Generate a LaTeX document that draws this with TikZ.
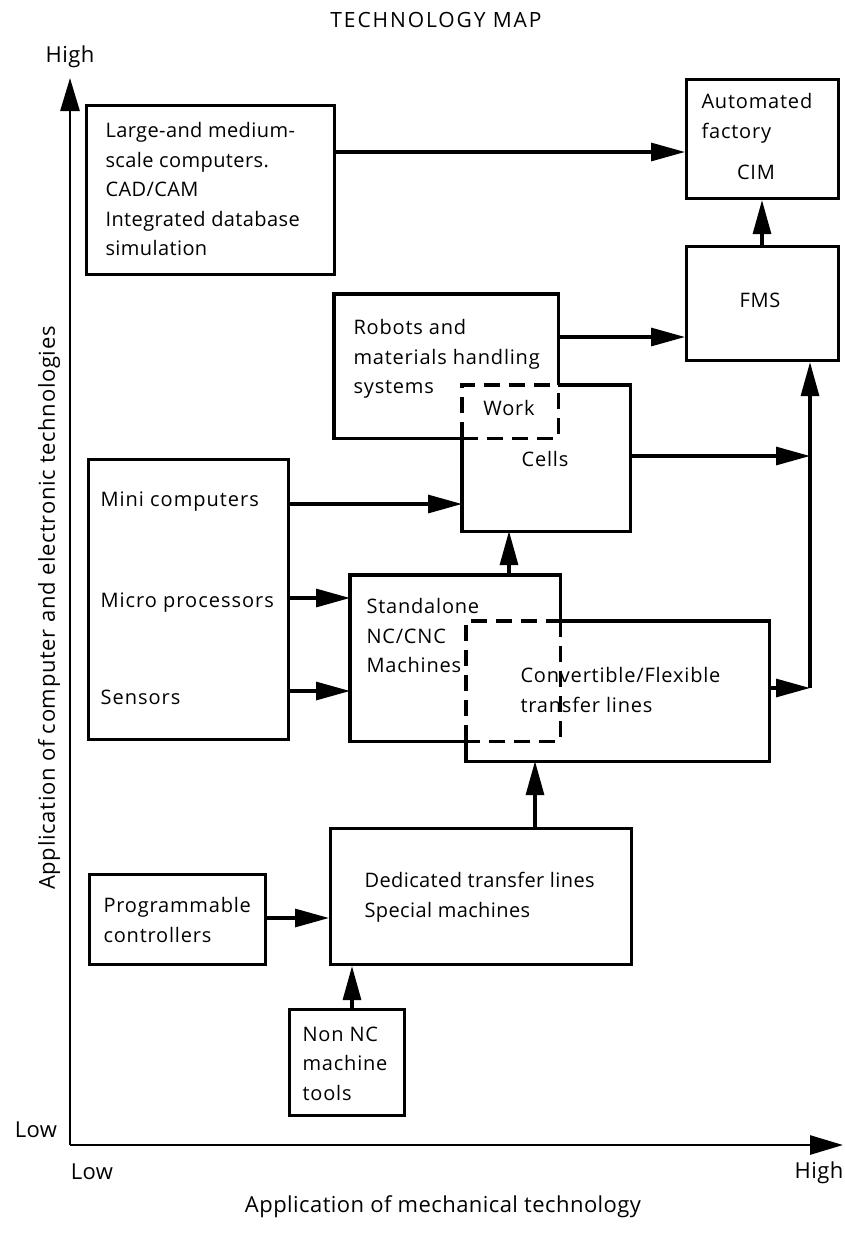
\documentclass[tikz,border=0pt]{standalone}
\usepackage{fontspec}
\setmainfont{Open Sans}
\usetikzlibrary{arrows.meta}
\begin{document}
\begin{tikzpicture}[x=1pt,y=-1pt,
  line width=3.1pt,
  box/.style={draw, line width=3.1pt, inner sep=0pt, anchor=north west},
  frame/.style={inner sep=0pt, anchor=north west},
  txt/.style={font=\fontsize{20}{29.5}\selectfont\addfontfeature{LetterSpace=4}, inner sep=0pt, align=left},
  tighttxt/.style={txt, font=\fontsize{20}{29.5}\selectfont\addfontfeature{LetterSpace=2}},
  spaced/.style={font=\fontsize{20}{29.5}\selectfont\addfontfeature{LetterSpace=5}},
  label/.style={inner sep=0pt, font=\fontsize{22}{26}\selectfont\addfontfeature{LetterSpace=2}},
  arr/.style={-{Triangle[length=34pt,width=18pt]}, line width=3.1pt},
  axis/.style={-{Triangle[length=33pt,width=19pt]}, line width=2.8pt},
  dashedge/.style={dash pattern=on 16pt off 9pt, line width=3.1pt}]
\useasboundingbox (0,0) rectangle (844,1243);

% titles and axis labels
\node[label, font=\fontsize{21}{26}\selectfont\addfontfeature{LetterSpace=9}] (title) at (436,20) {TECHNOLOGY MAP};
\node[label] (yhigh) at (70,57) {High};
\node[label] (ylow) at (36,1130) {Low};
\node[label] (xlow) at (92,1172) {Low};
\node[label] (xhigh) at (819,1173) {High};
\node[label] (xlabel) at (443,1207) {Application of mechanical technology};
\node[label, rotate=90, font=\fontsize{22}{26}\selectfont\addfontfeature{LetterSpace=3}] (ylabel) at (49,608) {Application of computer and electronic technologies};

% axes
\coordinate (O) at (70,1145);
\coordinate (ytip) at (70,78);
\coordinate (xtip) at (843,1145);
\draw[axis] (O) -- (ytip);
\draw[axis] (O) -- (xtip);

% plain boxes
\node[box, minimum width=248pt, minimum height=169pt] (large) at (85,104) {};
\node[box, minimum width=152pt, minimum height=119pt] (auto) at (685,78) {};
\node[box, minimum width=152pt, minimum height=114pt] (fms) at (685,245) {};
\node[box, minimum width=200pt, minimum height=280pt] (side) at (87,458) {};
\node[box, minimum width=301pt, minimum height=136pt] (ded) at (329,827) {};
\node[box, minimum width=176pt, minimum height=90pt] (prog) at (88,873) {};
\node[box, minimum width=115pt, minimum height=106pt] (nonnc) at (288,1008) {};

% overlapping boxes, outlined by hand
\node[frame, minimum width=221pt, minimum height=141pt] (robots) at (334,294) {};
\node[frame, minimum width=165pt, minimum height=143pt] (cells) at (462,385) {};
\node[frame, minimum width=207pt, minimum height=163pt] (stand) at (350,575) {};
\node[frame, minimum width=300pt, minimum height=137pt] (conv) at (466,621) {};

\coordinate (rcA) at (robots.north east |- cells.north);
\coordinate (rcB) at (cells.west |- robots.south);
\draw (rcA) -- (robots.north east) -- (robots.north west) -- (robots.south west) -- (rcB);
\draw (rcA) -- (cells.north east) -- (cells.south east) -- (cells.south west) -- (rcB);
\draw[dashedge] (rcB) -- (robots.south east) -- (rcA);
\draw[dashedge] (rcB) -- (cells.north west) -- (rcA);

\coordinate (scA) at (stand.east |- conv.north);
\coordinate (scB) at (conv.west |- stand.south);
\draw (scA) -- (stand.north east) -- (stand.north west) -- (stand.south west) -- (scB);
\draw (scA) -- (conv.north east) -- (conv.south east) -- (conv.south west) -- (scB);
\draw[dashedge] (scA) -- (stand.south east) -- (scB);
\draw[dashedge] (scB) -- (conv.north west) -- (scA);

% box texts
\node[tighttxt, anchor=north west] (largetxt) at (104,121) {Large-and medium-\\scale computers.\\CAD/CAM\\Integrated database\\simulation};
\node[txt, anchor=north west] (autotxt) at (700,92) {Automated\\factory};
\node[txt] (cim) at (756,172) {CIM};
\node[txt] (fmstxt) at (760,300) {FMS};
\node[txt, anchor=north west] (robtxt) at (352,318) {Robots and\\materials handling\\systems};
\node[txt] (worktxt) at (509,408) {Work};
\node[txt] (cellstxt) at (545,459) {Cells};
\node[txt, spaced, anchor=west] (mini) at (99,502) {Mini computers};
\node[txt, spaced, anchor=west] (micro) at (99,603) {Micro processors};
\node[txt, spaced, anchor=west] (sensors) at (99,697) {Sensors};
\node[txt, anchor=north west] (standtxt) at (365,597) {Standalone\\NC/CNC\\Machines};
\node[txt, anchor=north west] (convtxt) at (519,666) {Convertible/Flexible\\transfer lines};
\node[tighttxt, anchor=north west] (dedtxt) at (363,871) {Dedicated transfer lines\\Special machines};
\node[txt, anchor=north west] (progtxt) at (102,896) {Programmable\\controllers};
\node[txt, anchor=north west] (nonnctxt) at (301,1025) {Non NC\\machine\\tools};

% connectors
\coordinate (busA) at (810,456);
\coordinate (busB) at (810,688);
\draw[arr] (large.east |- 0,152) -- (auto.west |- 0,152);
\draw[arr] (fms.north -| 762,0) -- (auto.south -| 762,0);
\draw[arr] (robots.east |- 0,337) -- (fms.west |- 0,337);
\draw[arr] (cells.east |- busA) -- (busA);
\draw[arr] (conv.east |- busB) -- (busB);
\draw[arr] (busB) -- (fms.south -| busB);
\draw[arr] (side.east |- 0,504) -- (cells.west |- 0,504);
\draw[arr] (side.east |- 0,598) -- (stand.west |- 0,598);
\draw[arr] (side.east |- 0,691) -- (stand.west |- 0,691);
\draw[arr] (stand.north -| 509,0) -- (cells.south -| 509,0);
\draw[arr] (ded.north -| 535,0) -- (conv.south -| 535,0);
\draw[arr] (prog.east |- 0,918) -- (ded.west |- 0,918);
\draw[arr] (nonnc.north -| 352,0) -- (ded.south -| 352,0);
\end{tikzpicture}
\end{document}
